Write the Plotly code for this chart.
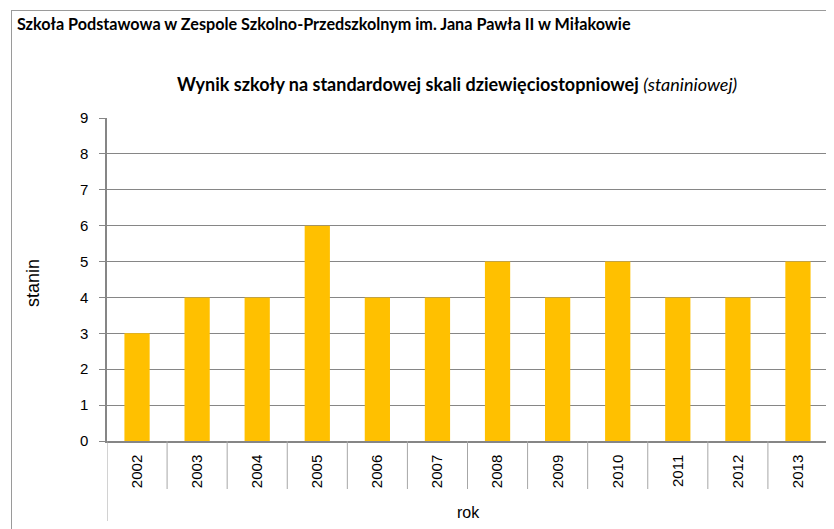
import plotly.graph_objects as go

years = ["2002", "2003", "2004", "2005", "2006", "2007", "2008", "2009", "2010", "2011", "2012", "2013"]
stanin = [3, 4, 4, 6, 4, 4, 5, 4, 5, 4, 4, 5]
y_ticks = [0, 1, 2, 3, 4, 5, 6, 7, 8, 9]

# the page adds an 8px body margin; work in page pixel coordinates
OFF = 8
PAGE_W, PAGE_H = 834, 529
W, H = PAGE_W - OFF, PAGE_H - OFF
PL, PR, PT, PB = 107, 828, 118, 441   # plot area in page px

def fx(px):
    return (px - OFF) / W

def fy(py):
    return 1 - (py - OFF) / H

fig = go.Figure(go.Bar(x=years, y=stanin, marker=dict(color="#FFC000", line=dict(width=0)), width=0.42))

shapes = []
n = len(years)
for i in range(n + 1):
    outer = i == 0 or i == n
    shapes.append(dict(type="line", xref="x", yref="paper", x0=i - 0.5, x1=i - 0.5,
                       y0=fy(PB), y1=fy(521 if outer else 489),
                       line=dict(color="#A6A6A6", width=1)))
# chart frame
shapes.append(dict(type="line", xref="paper", yref="paper", x0=fx(11), x1=1, y0=fy(10.5), y1=fy(10.5),
                   line=dict(color="#9A9A9A", width=1)))
shapes.append(dict(type="line", xref="paper", yref="paper", x0=fx(11.5), x1=fx(11.5), y0=fy(10), y1=0,
                   line=dict(color="#9A9A9A", width=1)))

annotations = [
    dict(text="<b>Szkoła Podstawowa w Zespole Szkolno-Przedszkolnym im. Jana Pawła II w Miłakowie</b>",
         xref="paper", yref="paper", x=fx(15), y=fy(24), xanchor="left", yanchor="middle",
         showarrow=False, font=dict(family="Lato", size=16.2, color="#000000")),
    dict(text="<b>Wynik szkoły na standardowej skali dziewięciostopniowej </b><i>(staniniowej)</i>",
         xref="paper", yref="paper", x=fx(457), y=fy(84), xanchor="center", yanchor="middle",
         showarrow=False, font=dict(family="Lato", size=18, color="#000000")),
    dict(text="stanin", xref="paper", yref="paper", x=fx(33), y=fy(283), xanchor="center", yanchor="middle",
         textangle=-90, showarrow=False, font=dict(family="Liberation Sans", size=18, color="#000000")),
    dict(text="rok", xref="paper", yref="paper", x=fx(468), y=fy(512), xanchor="center", yanchor="middle",
         showarrow=False, font=dict(family="Liberation Sans", size=16, color="#000000")),
]

fig.update_layout(
    width=W, height=H,
    margin=dict(l=0, r=0, t=0, b=0, pad=0),
    paper_bgcolor="white", plot_bgcolor="white",
    showlegend=False,
    shapes=shapes,
    annotations=annotations,
    xaxis=dict(type="category", range=[-0.5, n - 0.5], tickangle=-90, ticks="",
               domain=[fx(PL), fx(PR)], automargin=False,
               showline=True, linecolor="#868686", linewidth=1.5, showgrid=False,
               tickfont=dict(family="Liberation Sans", size=15, color="#000000"),
               ticklabelstandoff=6),
    yaxis=dict(range=[0, 9], tickvals=y_ticks, ticks="outside", ticklen=6, tickcolor="#868686",
               domain=[fy(PB), fy(PT)], automargin=False,
               showline=True, linecolor="#868686", linewidth=1.5,
               showgrid=True, gridcolor="#868686", gridwidth=1, zeroline=False,
               tickfont=dict(family="Liberation Sans", size=15, color="#000000"),
               ticklabelstandoff=8),
)

fig.write_html("out.html")
